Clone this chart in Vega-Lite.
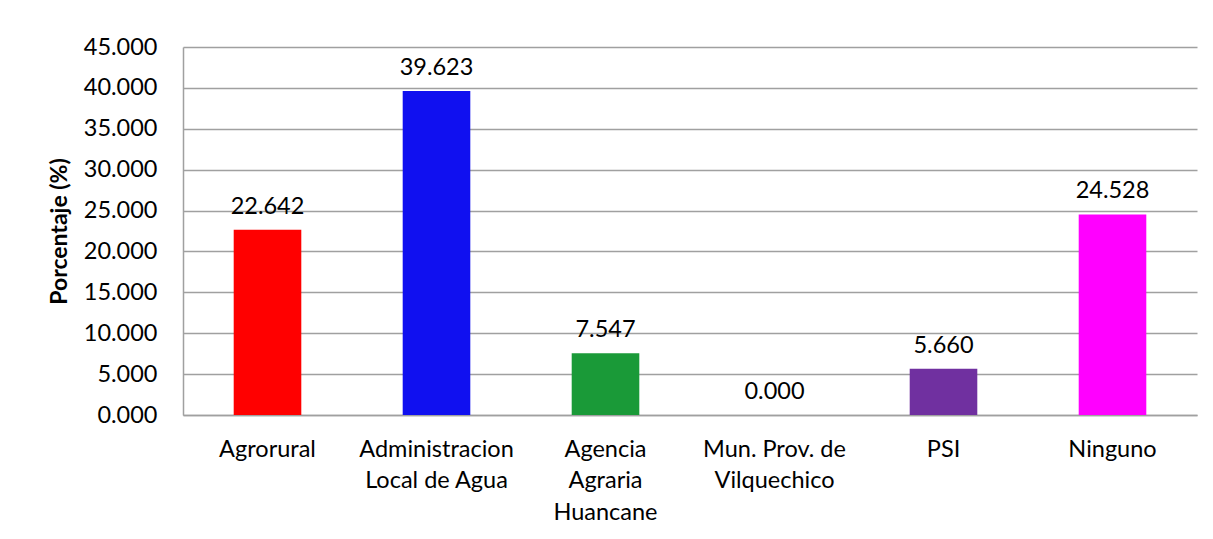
{
  "$schema": "https://vega.github.io/schema/vega-lite/v6.json",
  "autosize": "none",
  "width": 1014,
  "height": 368,
  "padding": {"left": 183, "top": 47, "right": 16, "bottom": 124},
  "background": "white",
  "config": {
    "font": "Lato",
    "view": {"stroke": null}
  },
  "data": {
    "values": [
      {"cat": "Agrorural", "pct": 22.642, "color": "#ff0000"},
      {"cat": "Administracion Local de Agua", "pct": 39.623, "color": "#1010f0"},
      {"cat": "Agencia Agraria Huancane", "pct": 7.547, "color": "#1a9a38"},
      {"cat": "Mun. Prov. de Vilquechico", "pct": 0.0, "color": "#ffffff"},
      {"cat": "PSI", "pct": 5.66, "color": "#7030a0"},
      {"cat": "Ninguno", "pct": 24.528, "color": "#ff00ff"}
    ]
  },
  "encoding": {
    "x": {
      "field": "cat",
      "type": "nominal",
      "sort": null,
      "scale": {"paddingInner": 0.6, "paddingOuter": 0.3},
      "axis": {
        "title": null,
        "labelAngle": 0,
        "labelFontSize": 23.5,
        "labelColor": "#000000",
        "labelPadding": 22,
        "labelLineHeight": 31.5,
        "labelBaseline": "top",
        "ticks": false,
        "domainColor": "#a0a0a0",
        "domainWidth": 1.5,
        "labelExpr": "datum.value == 'Administracion Local de Agua' ? ['Administracion', 'Local de Agua'] : datum.value == 'Agencia Agraria Huancane' ? ['Agencia', 'Agraria', 'Huancane'] : datum.value == 'Mun. Prov. de Vilquechico' ? ['Mun. Prov. de', 'Vilquechico'] : datum.value"
      }
    },
    "y": {
      "field": "pct",
      "type": "quantitative",
      "scale": {"domain": [0, 45], "nice": false},
      "axis": {
        "title": "Porcentaje (%)",
        "titleFontSize": 23,
        "titleFontWeight": "bold",
        "titleColor": "#000000",
        "titlePadding": 12,
        "values": [0, 5, 10, 15, 20, 25, 30, 35, 40, 45],
        "format": ".3f",
        "labelFontSize": 23.5,
        "labelColor": "#000000",
        "labelPadding": 26,
        "ticks": false,
        "grid": true,
        "gridColor": "#a0a0a0",
        "gridWidth": 1.5,
        "domainColor": "#a0a0a0",
        "domainWidth": 1.5
      }
    }
  },
  "layer": [
    {
      "mark": {"type": "bar"},
      "encoding": {
        "color": {"field": "color", "type": "nominal", "scale": null}
      }
    },
    {
      "mark": {"type": "text", "fontSize": 23.5, "baseline": "alphabetic", "dy": -16, "color": "#000000"},
      "encoding": {
        "text": {"field": "pct", "type": "quantitative", "format": ".3f"}
      }
    }
  ]
}
